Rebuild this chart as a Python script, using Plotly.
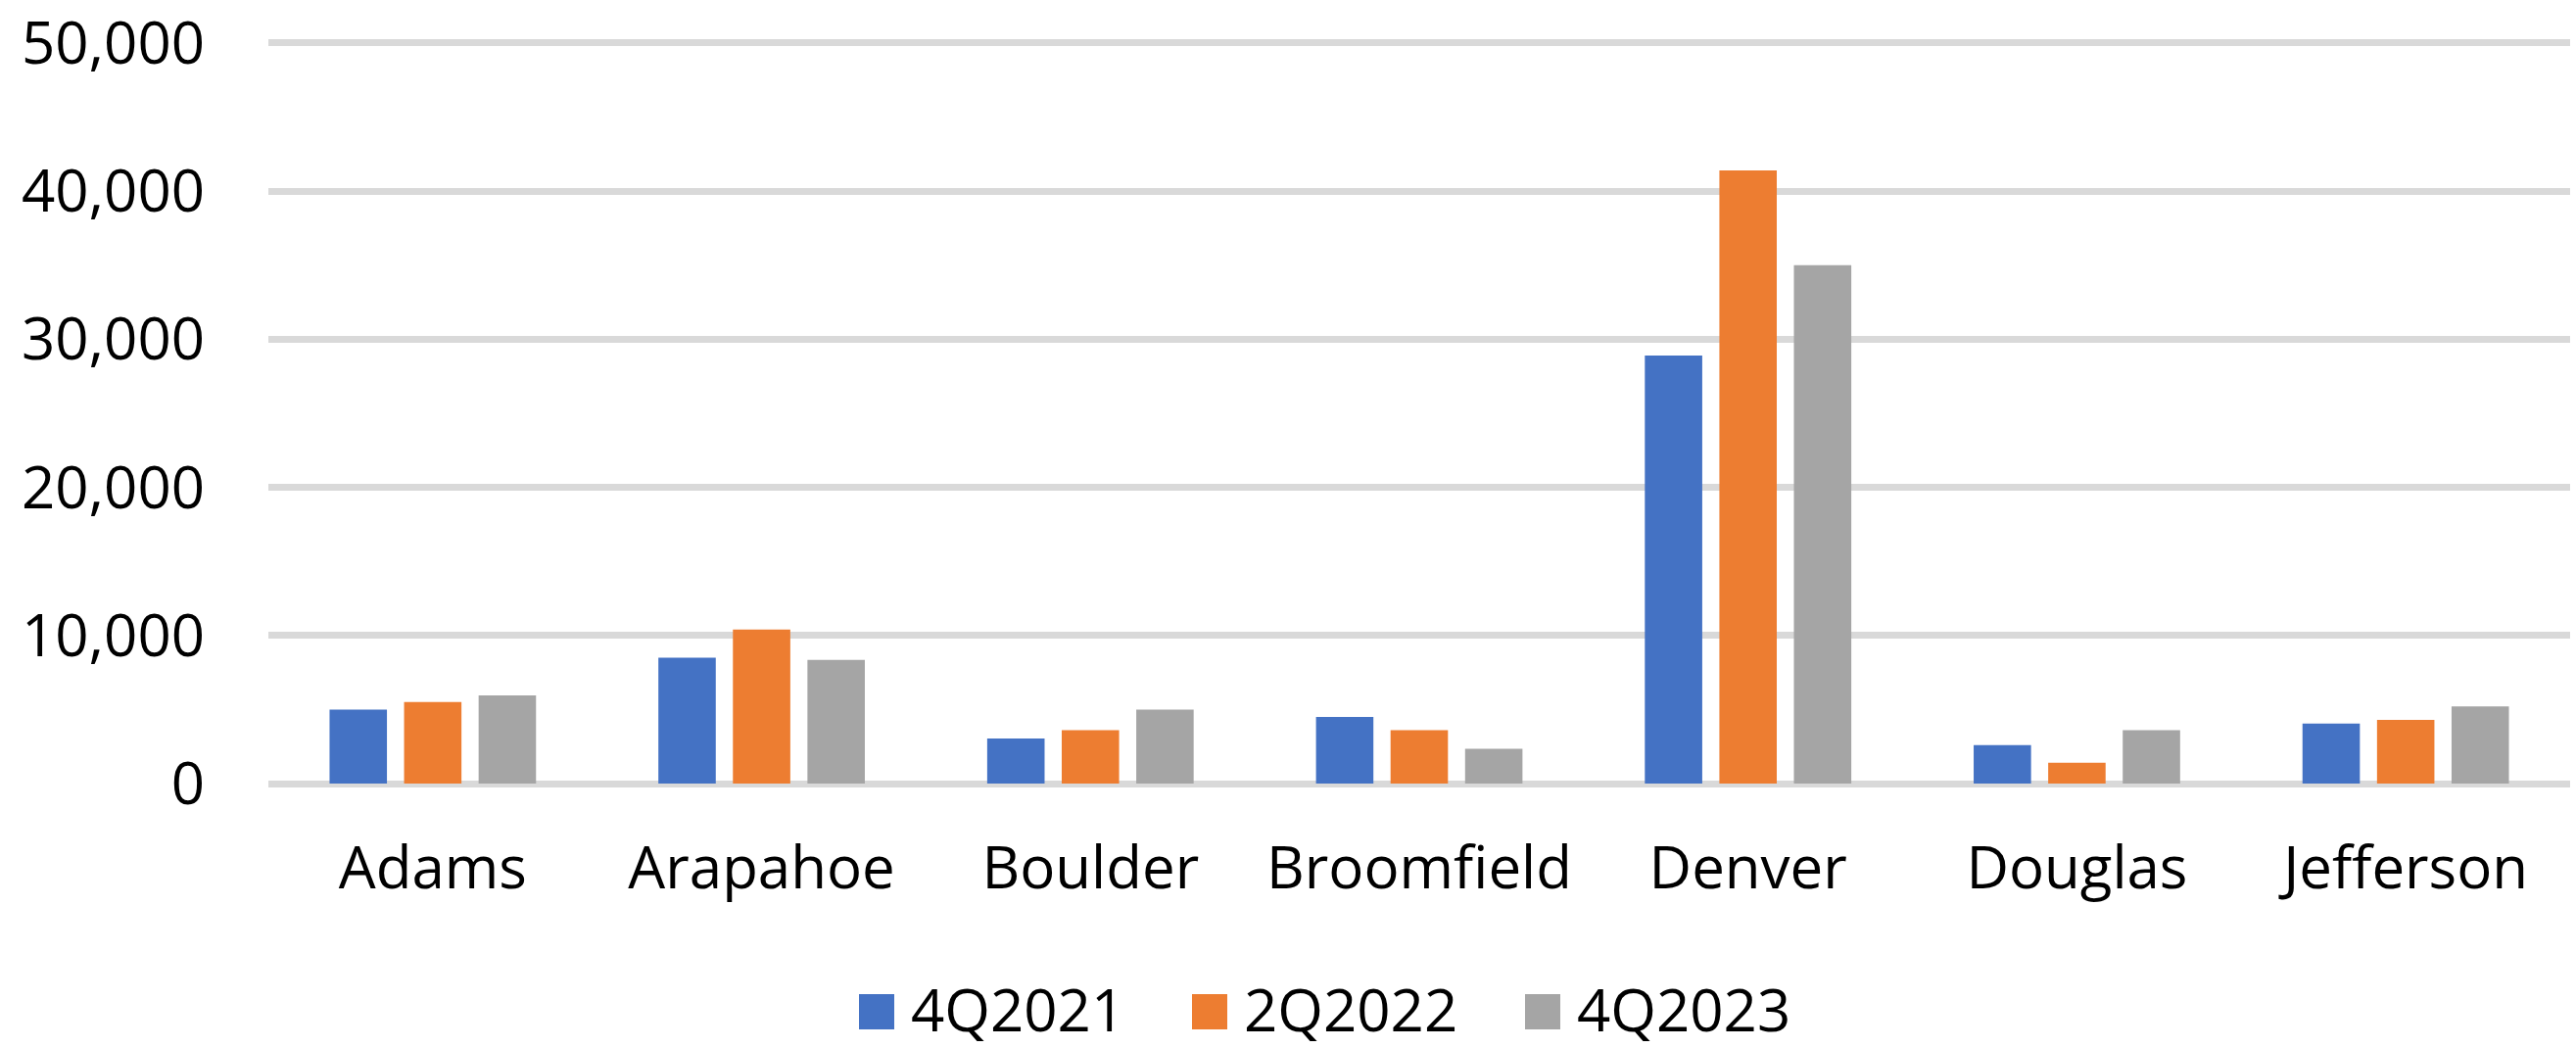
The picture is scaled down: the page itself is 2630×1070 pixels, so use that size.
import plotly.graph_objects as go

# Counties on the category axis
counties = ["Adams", "Arapahoe", "Boulder", "Broomfield", "Denver", "Douglas", "Jefferson"]

# Quarterly counts per county
q4_2021 = [5000, 8500, 3050, 4500, 28900, 2600, 4050]
q2_2022 = [5500, 10400, 3600, 3600, 41400, 1400, 4300]
q4_2023 = [5950, 8350, 5000, 2350, 35000, 3600, 5200]

series_names = ["4Q2021", "2Q2022", "4Q2023"]
series_values = [q4_2021, q2_2022, q4_2023]
series_colors = ["#4472C4", "#ED7D31", "#A5A5A5"]

# y-axis ticks
y_ticks = [0, 10000, 20000, 30000, 40000, 50000]
y_max = 51450  # headroom so the 50,000 gridline and its label fit

W, H = 2630, 1070
M_L, M_R, M_T, M_B = 274, 6, 22, 270
FONT = "Open Sans"

fig = go.Figure()
for name, vals, col in zip(series_names, series_values, series_colors):
    fig.add_trace(go.Bar(
        x=counties, y=vals, name=name,
        marker=dict(color=col, line=dict(width=0)),
        showlegend=False,
    ))

# Legend drawn below the plot: coloured squares with their labels
plot_w = W - M_L - M_R
plot_h = H - M_T - M_B
legend_start_px = 877
legend_pitch_px = 340
square_px = 36
legend_center_y_px = 1033


def to_x(px):
    return (px - M_L) / plot_w


def to_y(py):
    return (H - M_B - py) / plot_h


shapes = []
annotations = []
for i, (name, col) in enumerate(zip(series_names, series_colors)):
    x0_px = legend_start_px + i * legend_pitch_px
    shapes.append(dict(
        type="rect", xref="paper", yref="paper",
        x0=to_x(x0_px), x1=to_x(x0_px + square_px),
        y0=to_y(legend_center_y_px + square_px / 2), y1=to_y(legend_center_y_px - square_px / 2),
        fillcolor=col, line=dict(width=0),
    ))
    annotations.append(dict(
        xref="paper", yref="paper",
        x=to_x(x0_px + square_px + 15), y=to_y(legend_center_y_px - 3),
        xanchor="left", yanchor="middle",
        text=name, showarrow=False,
        font=dict(family=FONT, size=60, color="#000000"),
    ))

fig.update_layout(
    width=W, height=H,
    margin=dict(l=M_L, r=M_R, t=M_T, b=M_B, pad=0, autoexpand=False),
    paper_bgcolor="white", plot_bgcolor="white",
    barmode="group", bargap=0.32, bargroupgap=0.23,
    font=dict(family=FONT, size=60, color="#000000"),
    shapes=shapes, annotations=annotations,
    showlegend=False,
)
fig.update_xaxes(
    showgrid=False, showline=False, zeroline=False, ticks="",
    tickfont=dict(family=FONT, size=60, color="#000000"),
    ticklabelstandoff=46, automargin=False,
)
fig.update_yaxes(
    range=[0, y_max], tickvals=y_ticks, tickformat=",d",
    showgrid=True, gridcolor="#D9D9D9", gridwidth=7,
    zeroline=True, zerolinecolor="#D9D9D9", zerolinewidth=7,
    showline=False, ticks="",
    tickfont=dict(family=FONT, size=60, color="#000000"),
    ticklabelstandoff=64, ticklabeloverflow="allow", automargin=False,
)

fig.write_html("out.html")
